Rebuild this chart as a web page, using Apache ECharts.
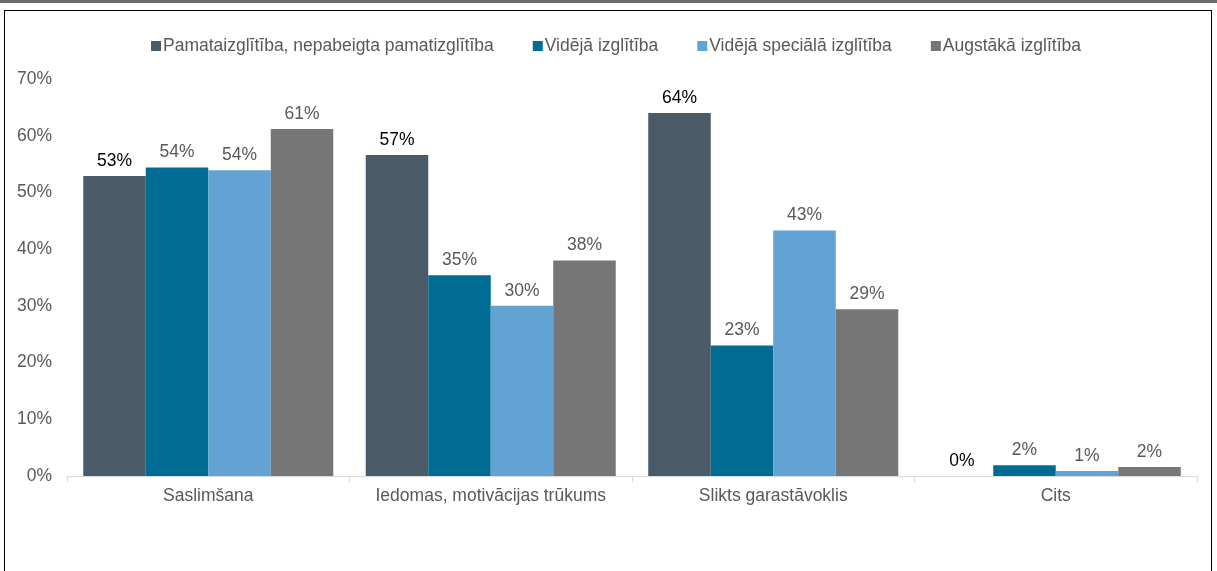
<!DOCTYPE html>
<html>
<head>
<meta charset="utf-8">
<script src="https://cdn.jsdelivr.net/npm/echarts@6/dist/echarts.min.js"></script>
<style>
    body { margin: 0; background: #fff; }
    #topbar { position: absolute; left: 0; top: 0; width: 1217px; height: 3px; background: #6b6b6b; }
    #frame { position: absolute; left: 4px; top: 10px; width: 1206px; height: 561px; border: 1px solid #000; border-bottom: none; }
    #main { width: 1206px; height: 561px; }
</style>
</head>
<body>
<div id="topbar"></div>
<div id="frame"><div id="main"></div></div>
<script>
// kategorijas
var categories = ['Saslimšana', 'Iedomas, motivācijas trūkums', 'Slikts garastāvoklis', 'Cits'];
var seriesNames = ['Pamataizglītība, nepabeigta pamatizglītība', 'Vidējā izglītība', 'Vidējā speciālā izglītība', 'Augstākā izglītība'];

// vērtības (%)
var pamata = [52.9, 56.6, 64.0, 0];
var videja = [54.4, 35.4, 23.0, 1.9];
var speciala = [53.9, 30.0, 43.3, 0.9];
var augstaka = [61.2, 38.0, 29.4, 1.6];

var yTicks = [0, 10, 20, 30, 40, 50, 60, 70];

var colors = ['#4a5a67', '#006b93', '#62a3d3', '#767676'];
var labelColors = ['#000000', '#595959', '#595959', '#595959'];
var allData = [pamata, videja, speciala, augstaka];

var series = [];
for (var i = 0; i < seriesNames.length; i++) {
    series.push({
        name: seriesNames[i],
        type: 'bar',
        data: allData[i],
        barGap: '0%',
        barCategoryGap: '11.5%',
        itemStyle: { color: colors[i] },
        label: {
            show: true,
            position: 'top',
            distance: 6,
            fontSize: 17.5,
            fontFamily: 'Liberation Sans, Arial, sans-serif',
            color: labelColors[i],
            formatter: function (p) { return Math.round(p.value) + '%'; }
        }
    });
}

var myChart = echarts.init(document.getElementById('main'));
var option = {
    animation: false,
    textStyle: { fontFamily: 'Liberation Sans, Arial, sans-serif' },
    legend: {
        data: seriesNames,
        top: 21,
        left: 141,
        itemWidth: 10,
        itemHeight: 10,
        itemGap: 39,
        icon: 'rect',
        textStyle: { fontSize: 17.5, color: '#595959', padding: [0, 0, 0, -3] }
    },
    grid: {
        left: 62,
        right: 14,
        top: 68,
        bottom: 96
    },
    xAxis: {
        type: 'category',
        data: categories,
        axisLine: { lineStyle: { color: '#d9d9d9' } },
        axisTick: { show: true, length: 6, lineStyle: { color: '#d9d9d9' } },
        axisLabel: { fontSize: 17.5, color: '#595959', margin: 11, interval: 0 }
    },
    yAxis: {
        type: 'value',
        min: yTicks[0],
        max: yTicks[yTicks.length - 1],
        interval: 10,
        splitLine: { show: false },
        axisLine: { show: false },
        axisTick: { show: false },
        axisLabel: { fontSize: 17.5, color: '#595959', margin: 15, formatter: '{value}%' }
    },
    series: series
};
myChart.setOption(option);
</script>
</body>
</html>
